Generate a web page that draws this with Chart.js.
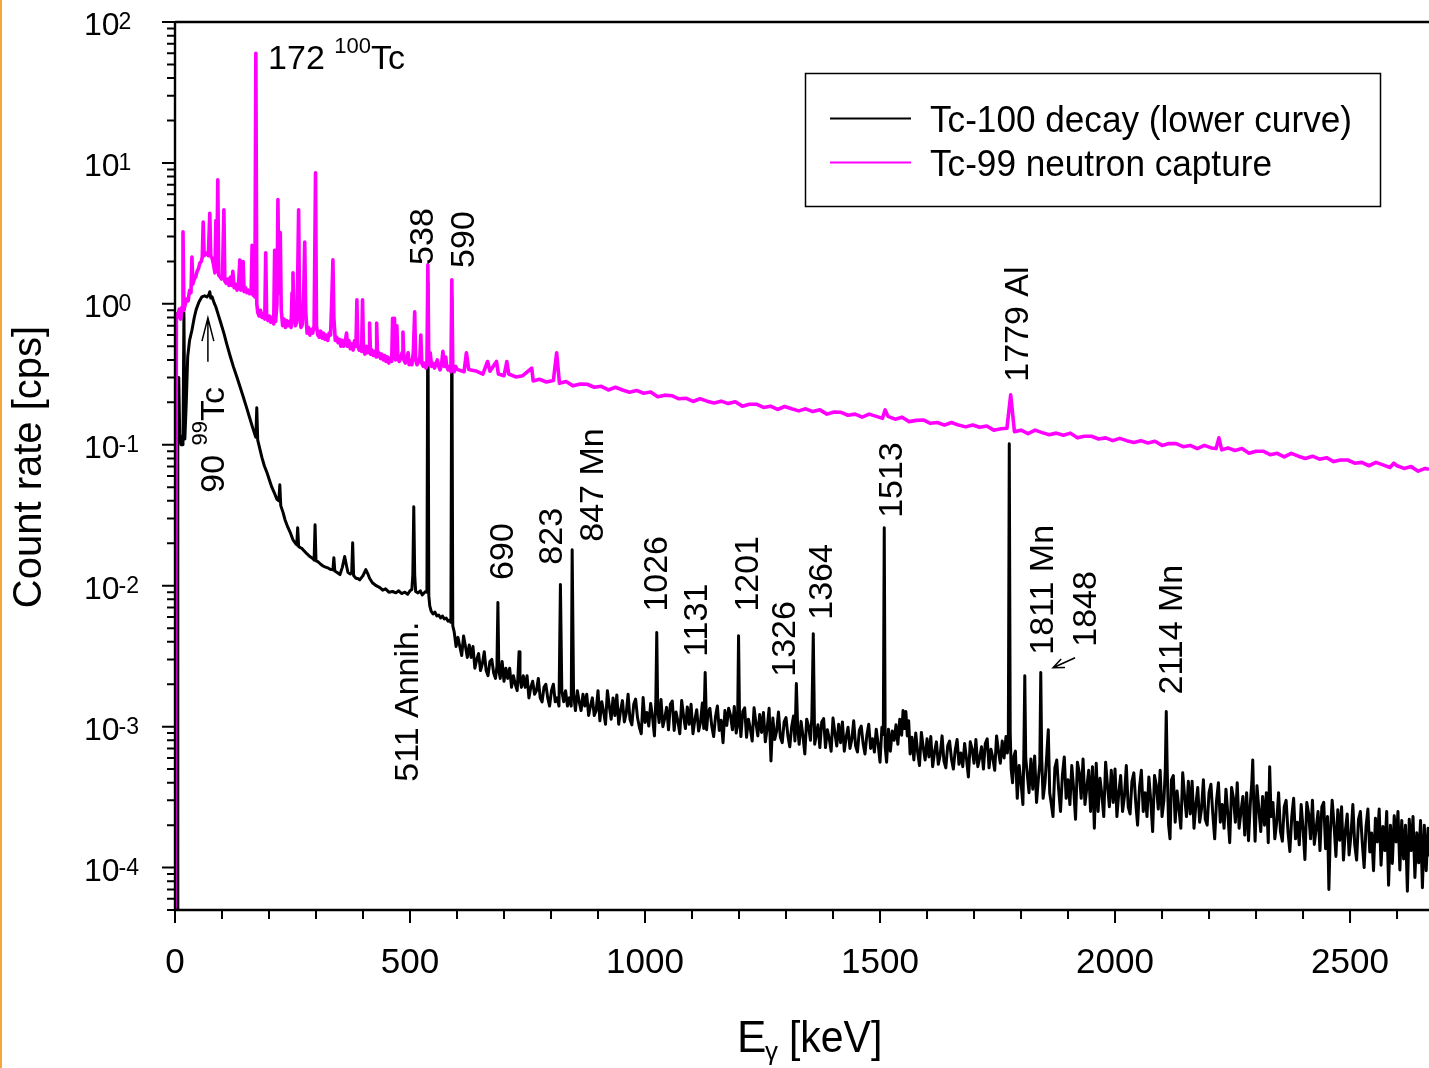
<!DOCTYPE html>
<html>
<head>
<meta charset="utf-8">
<script src="https://cdn.jsdelivr.net/npm/chart.js@4.4.0/dist/chart.umd.min.js"></script>
<style>
  html, body { margin: 0; padding: 0; background: #fff; }
  #wrap { width: 1429px; height: 1068px; position: relative; }
</style>
</head>
<body>
<div id="wrap"><canvas id="spectrum"></canvas></div>
<script>
// [energy keV, count rate cps]

// Tc-100 decay, low energy part (up to the 590 line)
const tc100Low = [
  [0,2e-5],[5,3e-5],[6,0.1],[8,0.3],[10,0.12],[13,0.1],[17,0.1],[19,0.86],[21,0.11],[24,0.2],[27,0.42],[31,0.55],
  [36,0.65],[41,0.8],[45,0.91],[51,1.03],[57,1.12],[63,1.14],[68,1.12],[72,1.16],[74,1.22],[76,1.1],[79,1.12],[83,1.02],
  [87,0.95],[91,0.86],[97,0.74],[104,0.62],[110,0.52],[117,0.43],[124,0.36],[132,0.3],[138,0.26],[145,0.22],[152,0.185],
  [159,0.155],[165,0.133],[170,0.118],[172,0.113],[174,0.183],[176,0.108],[180,0.095],[185,0.081],[190,0.071],[196,0.063],
  [201,0.056],[206,0.05],[212,0.045],[217,0.041],[221,0.04],[223,0.052],[225,0.037],[230,0.033],[234,0.0294],[240,0.026],
  [246,0.0235],[251,0.0212],[256,0.02],[259,0.0195],[261,0.0258],[263,0.019],[267,0.0186],[270,0.0184],[276,0.0175],
  [281,0.0168],[287,0.0161],[293,0.0156],[296,0.0152],[298,0.0271],[300,0.015],[304,0.0148],[310,0.0142],[315,0.0138],
  [319,0.0136],[325,0.0134],[330,0.0131],[336,0.013],[338,0.0158],[340,0.0127],[345,0.0124],[351,0.012],[356,0.0135],
  [361,0.0161],[365,0.0138],[368,0.0124],[373,0.0121],[376,0.0125],[378,0.0202],[380,0.0118],[385,0.0113],[390,0.0112],
  [393,0.011],[400,0.0118],[406,0.013],[410,0.0122],[414,0.0113],[420,0.0105],[428,0.01],[436,0.0097],[442,0.0093],
  [448,0.0095],[455,0.009],[463,0.0091],[470,0.0089],[476,0.0092],[482,0.0088],[489,0.009],[495,0.0087],[500,0.0092],
  [504,0.0094],[506,0.012],[508,0.0363],[510,0.012],[512,0.0091],[517,0.0089],[522,0.0092],[526,0.0086],[529,0.0088],
  [533,0.0091],[536,0.009],[538,1.41],[540,0.0085],[542,0.0072],[545,0.0066],[549,0.0063],[553,0.0065],[557,0.0061],
  [561,0.0062],[565,0.0059],[569,0.0061],[573,0.0058],[577,0.0059],[581,0.0056],[585,0.0057],[587,0.0055],[589,1.1],
  [591,0.0052]
];

// Tc-100 decay, 590 keV up to the 1779 Al line
const tc100Mid = [
  [594,0.0047],[598,0.0037],[602,0.0043],[606,0.0037],[610,0.0032],[614,0.0044],[618,0.0037],[622,0.0031],[626,0.0038],
  [630,0.0031],[634,0.0037],[638,0.0026],[642,0.003],[646,0.0033],[650,0.0025],[654,0.0028],[658,0.0034],[662,0.0025],
  [666,0.0023],[670,0.0029],[674,0.003],[678,0.0024],[682,0.0022],[685,0.0027],[687,0.0076],[689,0.0025],[692,0.0022],
  [696,0.0029],[700,0.0021],[704,0.0026],[708,0.0022],[712,0.0026],[716,0.0019],[720,0.0023],[724,0.002],[728,0.0018],
  [730,0.0024],[732,0.0034],[734,0.0022],[737,0.0019],[741,0.0023],[745,0.0019],[749,0.0023],[753,0.0016],[757,0.0019],
  [761,0.0021],[765,0.0017],[769,0.0018],[773,0.0022],[777,0.0016],[781,0.0015],[785,0.0019],[789,0.002],[793,0.0016],
  [797,0.0014],[801,0.0018],[805,0.002],[809,0.0015],[813,0.0016],[817,0.0014],[820,0.0102],[823,0.0018],[827,0.0015],
  [831,0.0018],[835,0.0014],[839,0.0016],[843,0.0014],[845,0.018],[848,0.0017],[852,0.0013],[856,0.0018],[860,0.0015],
  [864,0.0013],[868,0.0017],[872,0.0014],[876,0.0017],[880,0.0012],[884,0.0014],[888,0.0016],[892,0.0012],[896,0.0013],
  [900,0.0018],[904,0.0011],[908,0.0015],[912,0.00127],[916,0.00104],[920,0.0018],[924,0.0014],[928,0.00113],[932,0.0016],
  [936,0.0012],[940,0.00168],[944,0.00104],[948,0.0013],[952,0.00153],[956,0.00108],[960,0.00124],[964,0.0017],
  [968,0.00113],[972,0.00103],[976,0.00144],[980,0.00157],[984,0.00116],[988,0.00099],[992,0.00089],[996,0.00161],
  [1000,0.00107],[1004,0.00126],[1008,0.00101],[1012,0.00146],[1016,0.00117],[1020,0.00086],[1023,0.00153],[1025,0.00465],
  [1027,0.00134],[1030,0.00107],[1034,0.00156],[1038,0.001],[1042,0.00115],[1046,0.00137],[1050,0.00095],[1054,0.00144],
  [1058,0.00152],[1062,0.00094],[1066,0.00127],[1070,0.00109],[1074,0.00089],[1078,0.00153],[1082,0.00119],[1086,0.00097],
  [1090,0.00138],[1094,0.00104],[1098,0.00144],[1102,0.00089],[1106,0.00112],[1110,0.00132],[1114,0.00093],[1118,0.00107],
  [1122,0.00147],[1125,0.00097],[1128,0.00242],[1131,0.00095],[1134,0.00125],[1138,0.00135],[1142,0.00101],[1146,0.00085],
  [1150,0.00118],[1154,0.0014],[1158,0.00094],[1162,0.00111],[1166,0.00077],[1170,0.0013],[1174,0.00102],[1178,0.00135],
  [1182,0.0012],[1186,0.00095],[1190,0.00139],[1194,0.0009],[1197,0.00103],[1199,0.00442],[1201,0.00122],[1204,0.00085],
  [1208,0.00128],[1212,0.00136],[1216,0.00084],[1220,0.00113],[1224,0.00097],[1228,0.00079],[1232,0.00136],[1236,0.00106],
  [1240,0.00086],[1244,0.00122],[1248,0.00091],[1252,0.00126],[1256,0.00078],[1260,0.00098],[1264,0.00135],[1268,0.00057],
  [1272,0.00115],[1276,0.00081],[1280,0.00093],[1284,0.00127],[1288,0.00084],[1292,0.00077],[1296,0.00108],[1300,0.00116],
  [1304,0.00086],[1308,0.00072],[1312,0.001],[1316,0.00119],[1319,0.00079],[1322,0.00202],[1325,0.00094],[1328,0.00075],
  [1332,0.00109],[1336,0.00086],[1340,0.00064],[1344,0.00113],[1348,0.001],[1352,0.0008],[1355,0.00117],[1358,0.00457],
  [1361,0.00075],[1364,0.00086],[1368,0.00103],[1372,0.00071],[1376,0.00108],[1380,0.00114],[1384,0.00071],[1388,0.00095],
  [1392,0.00082],[1396,0.00067],[1400,0.00115],[1404,0.0009],[1408,0.00073],[1412,0.00104],[1416,0.00077],[1420,0.00108],
  [1424,0.00067],[1428,0.00084],[1432,0.00099],[1436,0.0007],[1440,0.00081],[1444,0.0011],[1448,0.00073],[1452,0.00066],
  [1456,0.00094],[1460,0.00101],[1464,0.00076],[1468,0.00064],[1472,0.00087],[1476,0.00104],[1480,0.0007],[1484,0.00082],
  [1488,0.00066],[1492,0.00096],[1496,0.00075],[1500,0.00056],[1504,0.00099],[1507,0.00088],[1509,0.0258],[1511,0.00072],
  [1514,0.00056],[1518,0.00096],[1522,0.00067],[1526,0.00093],[1530,0.0008],[1534,0.00103],[1538,0.00075],[1542,0.00113],
  [1546,0.00087],[1549,0.0013],[1552,0.00097],[1555,0.00128],[1558,0.00086],[1561,0.0011],[1564,0.00064],[1568,0.00084],
  [1572,0.00058],[1576,0.0009],[1580,0.00066],[1584,0.00053],[1588,0.00091],[1592,0.00071],[1596,0.00058],[1600,0.00082],
  [1604,0.00061],[1608,0.00085],[1612,0.00052],[1616,0.00066],[1620,0.00078],[1624,0.00054],[1628,0.00063],[1632,0.00086],
  [1636,0.00057],[1640,0.00051],[1644,0.00073],[1648,0.00079],[1652,0.00059],[1656,0.0005],[1660,0.00068],[1664,0.00081],
  [1668,0.00054],[1672,0.00065],[1676,0.00052],[1680,0.00076],[1684,0.00059],[1688,0.00044],[1692,0.00078],[1696,0.00069],
  [1700,0.00055],[1704,0.00081],[1708,0.00052],[1712,0.0006],[1716,0.00072],[1720,0.0005],[1724,0.00076],[1728,0.00082],
  [1732,0.00051],[1736,0.00069],[1740,0.0006],[1744,0.00049],[1748,0.00086],[1752,0.00067],[1756,0.00055],[1760,0.00079],
  [1764,0.0006],[1768,0.00085],[1771,0.00065],[1773,0.00084],[1775,0.1016],[1777,0.0009],[1779,0.0005],[1782,0.0004],
  [1785,0.00062]
];

// Tc-100 decay, above the 1779 Al line
const tc100High = [
  [1788,0.00067],[1792,0.00031],[1796,0.00053],[1800,0.0004],[1804,0.00028],[1806,0.00065],[1808,0.0023],[1810,0.0006],
  [1813,0.00047],[1817,0.00034],[1821,0.00059],[1825,0.00036],[1829,0.00062],[1833,0.00029],[1837,0.00043],[1840,0.00055],
  [1842,0.00242],[1844,0.0006],[1847,0.00031],[1851,0.0004],[1855,0.00065],[1858,0.00095],[1861,0.00034],[1864,0.00029],
  [1868,0.00023],[1872,0.00051],[1876,0.00058],[1880,0.00036],[1884,0.00025],[1888,0.00045],[1892,0.00061],[1896,0.00031],
  [1900,0.00042],[1904,0.00028],[1908,0.00053],[1912,0.00036],[1916,0.00022],[1920,0.00056],[1924,0.00047],[1928,0.00031],
  [1932,0.00059],[1936,0.00028],[1940,0.00037],[1944,0.00049],[1948,0.00025],[1952,0.00052],[1956,0.00019],[1960,0.00055],
  [1964,0.00025],[1968,0.00043],[1972,0.00033],[1976,0.00023],[1980,0.00056],[1984,0.00038],[1988,0.00027],[1992,0.00049],
  [1996,0.00029],[2000,0.0005],[2004,0.00023],[2008,0.00034],[2012,0.00045],[2016,0.00025],[2020,0.00032],[2024,0.00053],
  [2028,0.00027],[2032,0.00024],[2036,0.00041],[2040,0.00047],[2044,0.00029],[2048,0.0002],[2052,0.00037],[2056,0.00049],
  [2060,0.00025],[2064,0.00034],[2068,0.00023],[2072,0.00044],[2076,0.0003],[2080,0.00018],[2084,0.00045],[2088,0.00038],
  [2092,0.00026],[2096,0.00049],[2100,0.00023],[2104,0.0003],[2107,0.0005],[2109,0.00128],[2111,0.0005],[2114,0.0002],
  [2117,0.00016],[2120,0.00042],[2124,0.00045],[2128,0.00021],[2132,0.00035],[2136,0.00026],[2140,0.00019],[2144,0.00047],
  [2148,0.00032],[2152,0.00023],[2156,0.00041],[2160,0.00024],[2164,0.00041],[2168,0.00019],[2172,0.00028],[2176,0.00037],
  [2180,0.00021],[2184,0.00026],[2188,0.00042],[2192,0.00022],[2196,0.0002],[2200,0.00034],[2204,0.00039],[2208,0.00024],
  [2212,0.00016],[2216,0.0003],[2220,0.0004],[2224,0.00021],[2228,0.00028],[2232,0.00019],[2236,0.00036],[2240,0.00024],
  [2244,0.00015],[2248,0.00037],[2252,0.00031],[2256,0.00021],[2260,0.0004],[2264,0.00019],[2268,0.00025],[2272,0.00032],
  [2276,0.00017],[2280,0.00034],[2284,0.000155],[2288,0.00029],[2291,0.0004],[2293,0.00058],[2295,0.0003],[2298,0.000154],
  [2302,0.00038],[2306,0.00026],[2310,0.00018],[2314,0.00032],[2318,0.0002],[2322,0.00034],[2326,0.00015],[2329,0.00052],
  [2332,0.00023],[2336,0.00029],[2340,0.00016],[2344,0.00021],[2348,0.00034],[2352,0.00018],[2356,0.000154],[2360,0.00027],
  [2364,0.0003],[2368,0.00018],[2372,0.00013],[2376,0.00023],[2380,0.00031],[2384,0.00016],[2388,0.00021],[2392,0.000145],
  [2396,0.00028],[2400,0.00019],[2404,0.000114],[2408,0.00029],[2412,0.00024],[2416,0.00016],[2420,0.0003],[2424,0.000146],
  [2428,0.00019],[2432,0.00025],[2436,0.000132],[2440,0.00027],[2444,0.00029],[2448,0.000136],[2452,0.00023],[2455,0.00007],
  [2458,0.000174],[2462,0.0003],[2466,0.0002],[2470,0.00012],[2474,0.000257],[2478,0.000156],[2482,0.00027],[2486,0.000113],
  [2490,0.000182],[2494,0.00024],[2498,0.000123],[2502,0.00017],[2506,0.00028],[2510,0.000145],[2514,0.000113],[2518,0.00022],
  [2522,0.00025],[2526,0.000151],[2530,0.0001],[2534,0.000194],[2538,0.00026],[2542,0.000129],[2546,0.000176],[2550,0.000095],
  [2554,0.000224],[2558,0.000152],[2562,0.00026],[2566,0.000104],[2570,0.000196],[2574,0.000132],[2578,0.00025],[2582,0.000075],
  [2586,0.0002],[2590,0.000107],[2594,0.000233],[2598,0.000152],[2602,0.00025],[2606,0.000096],[2610,0.000216],[2614,0.000115],
  [2618,0.0002],[2622,0.000068],[2626,0.00022],[2630,0.000132],[2634,0.00023],[2638,0.000085],[2642,0.000177],[2646,0.000108],
  [2650,0.000216],[2654,0.000072],[2658,0.0002],[2662,0.000095],[2666,0.00019],[2668,0.00012]
];

// Tc-99 neutron capture, low energy part
const tc99Low = [
  [0,2e-5],[2,2e-5],[3,0.85],[6,0.8],[9,0.92],[12,0.78],[15,0.95],[17,3.24],[19,0.9],[22,1.0],[25,1.08],[28,1.05],
  [31,1.25],[34,1.2],[36,2.15],[38,1.38],[41,1.5],[44,1.55],[47,1.7],[50,1.78],[53,1.95],[56,2.0],[58,2.15],[60,3.8],
  [62,2.2],[65,2.25],[68,2.3],[71,2.2],[74,4.4],[76,2.2],[79,2.1],[82,1.9],[85,1.66],[87,3.9],[89,1.7],[91,7.6],[93,1.6],
  [96,1.55],[99,1.5],[101,1.6],[104,4.65],[106,1.45],[109,1.4],[112,1.5],[115,1.35],[118,1.55],[121,1.35],[123,1.7],
  [126,1.3],[129,1.38],[132,1.25],[135,1.35],[138,2.05],[140,1.25],[143,1.3],[145,2.0],[147,1.22],[150,1.3],[153,1.2],
  [156,1.25],[159,1.18],[162,1.2],[164,2.6],[166,1.15],[168,1.25],[170,1.12],[172,60],[174,1.0],[176,0.87],[179,0.82],
  [182,0.9],[185,0.8],[188,0.85],[191,0.78],[193,2.3],[195,0.8],[198,0.76],[201,0.82],[204,0.74],[207,0.8],[210,0.72],
  [212,2.4],[214,0.75],[217,1.0],[219,5.5],[221,1.2],[224,3.2],[226,0.9],[229,0.7],[232,0.78],[235,0.68],[238,0.76],
  [241,0.7],[244,0.75],[247,0.68],[249,1.2],[251,1.66],[253,0.8],[256,0.7],[259,0.74],[261,1.5],[263,4.65],[265,0.9],
  [268,0.68],[271,0.72],[274,1.3],[276,2.75],[278,0.9],[281,0.62],[284,0.68],[287,0.6],[290,0.66],[293,0.62],[296,0.7],
  [299,8.5],[301,0.7],[304,0.6],[307,0.58],[310,0.64],[313,0.57],[316,0.62],[319,0.56],[322,0.6],[325,0.55],[328,0.62],
  [331,0.6],[334,1.2],[336,2.05],[338,0.8],[341,0.55],[344,0.58],[347,0.53],[350,0.56],[353,0.5],[356,0.55],[359,0.5],
  [362,0.54],[365,0.62],[367,0.5],[370,0.55],[373,0.48],[376,0.52],[379,0.47],[382,0.55],[385,0.5],[387,1.07],[389,0.5],
  [392,0.47],[395,0.5],[397,0.46],[399,1.07],[401,0.48],[404,0.44],[407,0.5],[410,0.45],[413,0.47],[414,0.73],[416,0.44],
  [419,0.47],[422,0.43],[425,0.46],[428,0.42],[429,0.73],[431,0.43],[434,0.45],[437,0.41],[440,0.44],[443,0.4],[446,0.43],
  [449,0.39],[452,0.42],[455,0.38],[458,0.41],[461,0.39],[463,0.79],[465,0.42],[467,0.79],[469,0.4],[472,0.7],[474,0.42],
  [477,0.39],[480,0.41],[483,0.45],[485,0.63],[487,0.4],[490,0.38],[493,0.41],[496,0.45],[498,0.37],[501,0.4],[504,0.37],
  [507,0.45],[510,0.88],[512,0.4],[515,0.37],[518,0.39],[521,0.42],[523,0.6],[525,0.38],[528,0.36],[531,0.38],[534,0.35],
  [536,0.37],[538,1.89],[540,0.37],[543,0.45],[546,0.36],[549,0.38],[552,0.35],[555,0.37],[558,0.4],[561,0.36],[564,0.34],
  [567,0.37],[570,0.46],[573,0.36],[576,0.42],[578,0.36],[581,0.34],[584,0.36],[587,0.33],[589,1.48],[591,0.35],[594,0.33],
  [597,0.36]
];

// Tc-99 neutron capture, above 600 keV
const tc99High = [
  [600,0.343],[615,0.33],[620,0.45],[625,0.342],[640,0.334],[655,0.317],[665,0.39],[670,0.333],[684,0.39],[688,0.318],
  [700,0.309],[706,0.39],[710,0.318],[725,0.303],[740,0.309],[759,0.35],[762,0.284],[775,0.292],[790,0.279],[805,0.286],
  [812,0.45],[818,0.273],[832,0.281],[847,0.262],[862,0.27],[877,0.269],[892,0.256],[907,0.26],[922,0.245],[937,0.256],
  [952,0.245],[967,0.236],[982,0.243],[997,0.232],[1012,0.237],[1027,0.219],[1042,0.225],[1057,0.223],[1072,0.212],
  [1087,0.214],[1102,0.203],[1117,0.212],[1132,0.204],[1147,0.198],[1162,0.204],[1177,0.196],[1192,0.202],[1207,0.188],
  [1222,0.194],[1237,0.194],[1252,0.184],[1267,0.188],[1282,0.178],[1297,0.187],[1312,0.18],[1327,0.174],[1342,0.18],
  [1357,0.172],[1372,0.177],[1387,0.165],[1402,0.171],[1417,0.17],[1432,0.162],[1447,0.165],[1462,0.157],[1477,0.165],
  [1492,0.159],[1505,0.154],[1511,0.177],[1517,0.159],[1532,0.152],[1547,0.157],[1562,0.146],[1577,0.149],[1592,0.15],
  [1607,0.142],[1622,0.144],[1637,0.138],[1652,0.144],[1667,0.138],[1682,0.134],[1697,0.138],[1712,0.133],[1727,0.136],
  [1742,0.127],[1757,0.13],[1770,0.131],[1778,0.226],[1786,0.124],[1800,0.127],[1815,0.12],[1830,0.127],[1845,0.122],
  [1860,0.118],[1875,0.121],[1890,0.117],[1905,0.121],[1920,0.112],[1935,0.115],[1950,0.115],[1965,0.11],[1980,0.112],
  [1995,0.107],[2010,0.111],[2025,0.107],[2040,0.104],[2055,0.107],[2070,0.103],[2085,0.106],[2100,0.099],[2115,0.102],
  [2130,0.102],[2145,0.097],[2160,0.099],[2175,0.094],[2190,0.099],[2205,0.095],[2215,0.094],[2221,0.112],[2227,0.092],
  [2240,0.095],[2255,0.091],[2270,0.094],[2285,0.087],[2300,0.09],[2315,0.09],[2330,0.085],[2345,0.087],[2360,0.082],
  [2375,0.087],[2390,0.083],[2405,0.08],[2420,0.083],[2435,0.079],[2450,0.081],[2465,0.076],[2480,0.078],[2495,0.078],
  [2510,0.074],[2525,0.075],[2540,0.071],[2555,0.075],[2570,0.072],[2585,0.069],[2593,0.074],[2600,0.071],[2615,0.068],
  [2630,0.07],[2645,0.065],[2660,0.068],[2668,0.067]
];

const xMajorTicks = [0, 500, 1000, 1500, 2000, 2500];
const xMinorTicks = [100, 200, 300, 400, 600, 700, 800, 900, 1100, 1200, 1300, 1400, 1600, 1700, 1800, 1900,
                     2100, 2200, 2300, 2400, 2600];
const yDecades = [-4, -3, -2, -1, 0, 1, 2];
const yExponentLabels = ['-4', '-3', '-2', '-1', '0', '1', '2'];

const seriesNames = ['Tc-100 decay (lower curve)', 'Tc-99 neutron capture'];

// peak labels, anchored in data coordinates (start of the rotated text)
const peakLabels = [
  { text: '538', keV: 549, cps: 1.89 },
  { text: '590', keV: 636, cps: 1.80 },
  { text: '1779 Al', keV: 1815, cps: 0.28 },
  { text: '690', keV: 719, cps: 0.011 },
  { text: '823', keV: 823, cps: 0.0141 },
  { text: '847 Mn', keV: 911, cps: 0.0205 },
  { text: '1026', keV: 1047, cps: 0.00655 },
  { text: '1131', keV: 1132, cps: 0.00313 },
  { text: '1201', keV: 1240, cps: 0.00655 },
  { text: '1326', keV: 1319, cps: 0.00226 },
  { text: '1364', keV: 1398, cps: 0.00574 },
  { text: '1513', keV: 1547, cps: 0.0303 },
  { text: '1811 Mn', keV: 1868, cps: 0.00324 },
  { text: '1848', keV: 1960, cps: 0.00369 },
  { text: '2114 Mn', keV: 2143, cps: 0.00169 },
  { text: '511 Annih.', keV: 517, cps: 0.000407 }
];

const FONT = '"Liberation Sans", Arial, Helvetica, sans-serif';

function toPoints(rows) {
  return rows.map(r => ({ x: r[0], y: r[1] }));
}

// draws a list of text runs along a baseline, optionally rotated
function drawRuns(ctx, runs, x, y, angle, align) {
  ctx.save();
  ctx.translate(x, y);
  ctx.rotate(angle || 0);
  ctx.textBaseline = 'alphabetic';
  ctx.textAlign = 'left';
  let total = 0;
  const widths = runs.map(r => {
    ctx.font = r.size + 'px ' + FONT;
    const w = ctx.measureText(r.text).width * (r.stretch || 1);
    total += w;
    return w;
  });
  let cx = align === 'center' ? -total / 2 : 0;
  runs.forEach((r, i) => {
    ctx.font = r.size + 'px ' + FONT;
    ctx.save();
    ctx.translate(cx, -(r.rise || 0));
    ctx.scale(r.stretch || 1, 1);
    ctx.fillText(r.text, 0, 0);
    ctx.restore();
    cx += widths[i];
  });
  ctx.restore();
}

function arrow(ctx, x1, y1, x2, y2, head, spread) {
  const a = Math.atan2(y2 - y1, x2 - x1);
  ctx.beginPath();
  ctx.moveTo(x1, y1);
  ctx.lineTo(x2, y2);
  ctx.moveTo(x2 - head * Math.cos(a - spread), y2 - head * Math.sin(a - spread));
  ctx.lineTo(x2, y2);
  ctx.lineTo(x2 - head * Math.cos(a + spread), y2 - head * Math.sin(a + spread));
  ctx.stroke();
}

const decorations = {
  id: 'decorations',
  beforeDraw(chart) {
    const ctx = chart.ctx;
    ctx.save();
    ctx.fillStyle = '#f7a63c';
    ctx.fillRect(0, 0, 2, chart.height);
    ctx.restore();
  },
  afterDraw(chart) {
    const ctx = chart.ctx;
    const a = chart.chartArea;
    const xs = chart.scales.x;
    const ys = chart.scales.y;
    ctx.save();
    ctx.fillStyle = '#000';
    ctx.strokeStyle = '#000';

    // frame
    ctx.lineWidth = 2.4;
    ctx.beginPath();
    ctx.moveTo(a.left, a.top);
    ctx.lineTo(a.right, a.top);
    ctx.moveTo(a.left, a.top);
    ctx.lineTo(a.left, a.bottom);
    ctx.lineTo(a.right, a.bottom);
    ctx.stroke();

    // y ticks
    ctx.lineWidth = 2;
    ctx.beginPath();
    [-5].concat(yDecades).forEach(d => {
      const major = Math.pow(10, d);
      if (major >= ys.min && major <= ys.max) {
        const py = ys.getPixelForValue(major);
        ctx.moveTo(a.left - 13, py);
        ctx.lineTo(a.left, py);
      }
      for (let m = 2; m <= 9; m++) {
        const v = m * major;
        if (v < ys.min || v > ys.max) continue;
        const py = ys.getPixelForValue(v);
        ctx.moveTo(a.left - 8, py);
        ctx.lineTo(a.left, py);
      }
    });
    // x ticks
    xMajorTicks.forEach(t => {
      const px = xs.getPixelForValue(t);
      ctx.moveTo(px, a.bottom);
      ctx.lineTo(px, a.bottom + 13);
    });
    xMinorTicks.forEach(t => {
      const px = xs.getPixelForValue(t);
      ctx.moveTo(px, a.bottom);
      ctx.lineTo(px, a.bottom + 9);
    });
    ctx.stroke();

    // y tick labels: 10 with superscript exponent
    yDecades.forEach((d, i) => {
      const py = ys.getPixelForValue(Math.pow(10, d));
      ctx.font = '32px ' + FONT;
      const w = ctx.measureText('10').width;
      drawRuns(ctx, [{ text: '10', size: 32 }], 84, py + 13);
      drawRuns(ctx, [{ text: yExponentLabels[i], size: 23 }], 84 + w - 1, py + 7);
    });

    // x tick labels
    xMajorTicks.forEach(t => {
      drawRuns(ctx, [{ text: String(t), size: 35 }], xs.getPixelForValue(t), a.bottom + 63, 0, 'center');
    });

    // axis titles
    drawRuns(ctx, [{ text: 'Count rate [cps]', size: 40 }], 41, (a.top + a.bottom) / 2 + 1, -Math.PI / 2, 'center');
    drawRuns(ctx, [{ text: 'E', size: 44 }], 737, 1052);
    drawRuns(ctx, [{ text: '\u03b3', size: 26 }], 765, 1060);
    drawRuns(ctx, [{ text: '[keV]', size: 44, stretch: 0.93 }], 789, 1052);

    // peak labels (rotated, reading upwards)
    peakLabels.forEach(p => {
      drawRuns(ctx, [{ text: p.text, size: 34 }], xs.getPixelForValue(p.keV), ys.getPixelForValue(p.cps), -Math.PI / 2);
    });
    // 90 99Tc
    drawRuns(ctx, [
      { text: '90 ', size: 34 },
      { text: '99', size: 22, rise: 17 },
      { text: 'Tc', size: 34 }
    ], xs.getPixelForValue(104), ys.getPixelForValue(0.0457), -Math.PI / 2);
    // 172 100Tc
    drawRuns(ctx, [
      { text: '172 ', size: 34 },
      { text: '100', size: 22, rise: 16 },
      { text: 'Tc', size: 34 }
    ], xs.getPixelForValue(198), ys.getPixelForValue(46.4));

    // arrows
    ctx.lineWidth = 1.5;
    arrow(ctx, xs.getPixelForValue(70), ys.getPixelForValue(0.388),
               xs.getPixelForValue(70), ys.getPixelForValue(0.796), 24, 0.25);
    arrow(ctx, xs.getPixelForValue(1915), ys.getPixelForValue(0.00308),
               xs.getPixelForValue(1868), ys.getPixelForValue(0.00262), 12, 0.4);

    // legend box
    ctx.lineWidth = 1.5;
    ctx.strokeRect(805.5, 73.5, 575, 133);
    ctx.lineWidth = 2;
    ctx.strokeStyle = '#000';
    ctx.beginPath();
    ctx.moveTo(830, 118.5);
    ctx.lineTo(911, 118.5);
    ctx.stroke();
    ctx.strokeStyle = '#ff00ff';
    ctx.beginPath();
    ctx.moveTo(830, 162.5);
    ctx.lineTo(911, 162.5);
    ctx.stroke();
    drawRuns(ctx, [{ text: seriesNames[0], size: 37, stretch: 0.95 }], 930, 132);
    drawRuns(ctx, [{ text: seriesNames[1], size: 37, stretch: 0.95 }], 930, 176);

    ctx.restore();
  }
};

new Chart(document.getElementById('spectrum'), {
  type: 'line',
  data: {
    datasets: [
      {
        label: seriesNames[1],
        data: toPoints(tc99Low.concat(tc99High)),
        borderColor: '#ff00ff',
        borderWidth: 3.6,
        borderJoinStyle: 'round',
        pointRadius: 0,
        tension: 0,
        fill: false
      },
      {
        label: seriesNames[0],
        data: toPoints(tc100Low.concat(tc100Mid, tc100High)),
        borderColor: '#000000',
        borderWidth: 3,
        borderJoinStyle: 'round',
        pointRadius: 0,
        tension: 0,
        fill: false
      }
    ]
  },
  options: {
    responsive: true,
    maintainAspectRatio: false,
    animation: false,
    events: [],
    layout: { padding: { top: 22, right: 0, bottom: 0, left: 0 } },
    plugins: {
      legend: { display: false },
      tooltip: { enabled: false }
    },
    scales: {
      x: {
        type: 'linear',
        min: 0,
        max: 2668,
        ticks: { display: false },
        grid: { display: false },
        border: { display: false },
        afterFit(scale) { scale.height = 158; }
      },
      y: {
        type: 'logarithmic',
        min: 5e-5,
        max: 100,
        ticks: { display: false },
        grid: { display: false },
        border: { display: false },
        afterFit(scale) { scale.width = 175; }
      }
    }
  },
  plugins: [decorations]
});
</script>
</body>
</html>
